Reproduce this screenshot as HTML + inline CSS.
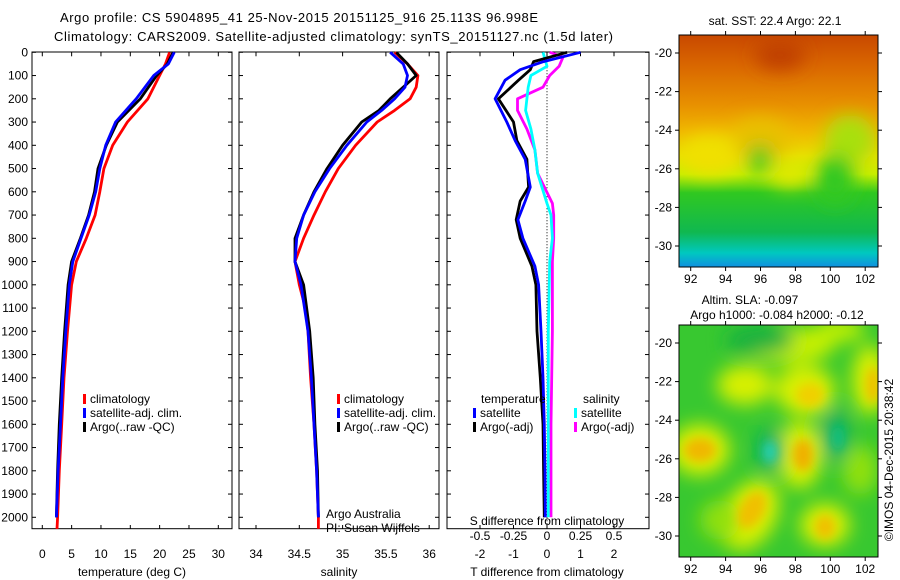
<!DOCTYPE html>
<html><head><meta charset="utf-8"><style>
body{margin:0;background:#fff}
svg{display:block;font-family:"Liberation Sans",sans-serif}
text{font-size:12px;fill:#000}
</style></head><body>
<svg id="fig" width="900" height="580" viewBox="0 0 900 580" xmlns="http://www.w3.org/2000/svg">
<defs>
<linearGradient id="sstg" x1="0" y1="0" x2="0" y2="1">
<stop offset="0" stop-color="#c84800"/><stop offset="0.12" stop-color="#d86400"/><stop offset="0.3" stop-color="#e89000"/><stop offset="0.42" stop-color="#f0b800"/><stop offset="0.52" stop-color="#e8e000"/><stop offset="0.6" stop-color="#c8ee00"/><stop offset="0.68" stop-color="#30c820"/><stop offset="0.85" stop-color="#10b850"/><stop offset="0.94" stop-color="#00c8c0"/><stop offset="1" stop-color="#1090e0"/>
</linearGradient>
<filter id="blur" x="-50%" y="-50%" width="200%" height="200%"><feGaussianBlur stdDeviation="9"/></filter>
<filter id="blur2" x="-50%" y="-50%" width="200%" height="200%"><feGaussianBlur stdDeviation="5"/></filter>
<clipPath id="c1"><rect x="679" y="35" width="199" height="232"/></clipPath>
<clipPath id="c2"><rect x="679" y="325" width="199" height="232"/></clipPath>
</defs>
<text x="60" y="22" textLength="478" style="font-size:13px">Argo profile: CS 5904895_41 25-Nov-2015 20151125_916 25.113S 96.998E</text>
<text x="54" y="41" textLength="559" style="font-size:13px">Climatology: CARS2009. Satellite-adjusted climatology: synTS_20151127.nc (1.5d later)</text>
<g id="g1"></g>
<g id="g2"></g>
<g id="g3"></g>
<g id="maps">
<g clip-path="url(#c1)">
<rect x="679" y="35" width="199" height="232" fill="url(#sstg)"/>
<g filter="url(#blur)">
<ellipse cx="760" cy="140" rx="30" ry="22" fill="#e8c000"/>
<ellipse cx="850" cy="140" rx="25" ry="25" fill="#a8e010"/>
<ellipse cx="710" cy="155" rx="30" ry="20" fill="#f0e000"/>
<ellipse cx="835" cy="180" rx="20" ry="25" fill="#30c820"/>
<ellipse cx="760" cy="160" rx="12" ry="15" fill="#40cc20"/>
<ellipse cx="790" cy="175" rx="20" ry="12" fill="#e0e800"/>
<ellipse cx="780" cy="55" rx="25" ry="15" fill="#c04000"/>
</g>
</g>
<rect x="679" y="35" width="199" height="232" fill="none" stroke="#000"/>
<g clip-path="url(#c2)">
<rect x="679" y="325" width="199" height="232" fill="#38c830"/>
<g filter="url(#blur)">
<ellipse cx="700" cy="450" rx="30" ry="26" fill="#d8f000"/>
<ellipse cx="750" cy="515" rx="26" ry="38" fill="#d8f000" transform="rotate(30 750 515)"/>
<ellipse cx="800" cy="455" rx="22" ry="34" fill="#d8f000"/>
<ellipse cx="825" cy="525" rx="25" ry="22" fill="#d8f000"/>
<ellipse cx="805" cy="390" rx="30" ry="25" fill="#d8f000"/>
<ellipse cx="870" cy="380" rx="18" ry="35" fill="#d8f000"/>
<ellipse cx="790" cy="345" rx="45" ry="18" fill="#c8f000"/>
<ellipse cx="745" cy="385" rx="28" ry="20" fill="#d8f000"/>
<ellipse cx="840" cy="330" rx="25" ry="12" fill="#c0f000"/>
<ellipse cx="720" cy="520" rx="20" ry="20" fill="#90e010"/>
<ellipse cx="860" cy="470" rx="18" ry="25" fill="#90e010"/>
<ellipse cx="760" cy="340" rx="35" ry="14" fill="#18b040"/>
<ellipse cx="770" cy="450" rx="14" ry="22" fill="#10b060"/>
<ellipse cx="835" cy="435" rx="14" ry="28" fill="#10b060"/>
</g>
<g filter="url(#blur2)">
<ellipse cx="700" cy="450" rx="16" ry="12" fill="#f0b800"/>
<ellipse cx="752" cy="510" rx="12" ry="20" fill="#f0c000" transform="rotate(30 752 510)"/>
<ellipse cx="803" cy="455" rx="10" ry="16" fill="#f0b000"/>
<ellipse cx="825" cy="527" rx="10" ry="12" fill="#f0c000"/>
<ellipse cx="810" cy="395" rx="14" ry="12" fill="#f0d000"/>
<ellipse cx="873" cy="385" rx="7" ry="18" fill="#f0c000"/>
<ellipse cx="770" cy="452" rx="7" ry="11" fill="#20d0b0"/>
<ellipse cx="838" cy="438" rx="6" ry="12" fill="#10c080"/>
</g>
</g>
<rect x="679" y="325" width="199" height="232" fill="none" stroke="#000"/>
<text x="775" y="25" text-anchor="middle">sat. SST: 22.4 Argo: 22.1</text>
<text x="750" y="304" text-anchor="middle">Altim. SLA: -0.097</text>
<text x="777" y="319" text-anchor="middle">Argo h1000: -0.084 h2000: -0.12</text>
<text x="0" y="0" transform="translate(893 460) rotate(-90)" text-anchor="middle">©IMOS 04-Dec-2015 20:38:42</text>
</g>
</svg>
<script>
// ---- data ----
const tempDepths=[0,50,100,200,300,400,500,600,700,800,900,1000,1200,1400,1600,1800,2000,2050];
const tempClim=[21.7,21.0,20.0,18.0,14.5,12.0,10.5,9.8,9.0,7.5,5.8,5.0,4.3,3.7,3.3,2.9,2.6,2.5];
const tempSatDepths=[0,50,100,200,300,400,500,600,700,800,900,1000,1200,1400,1600,1800,2000];
const tempSat=[22.5,21.5,19.0,16.0,12.5,10.8,9.8,9.1,8.0,6.6,5.2,4.6,4.0,3.5,3.1,2.7,2.4];
const tempArgo=[22.3,21.3,19.5,16.7,12.8,10.9,9.5,8.9,7.9,6.5,5.0,4.4,3.8,3.3,2.9,2.6,2.4];
const salDepths=[0,50,100,150,200,250,300,400,500,600,700,800,900,1000,1100,1200,1400,1600,1800,2000,2050];
const salClim=[35.6,35.75,35.87,35.85,35.78,35.6,35.4,35.15,34.95,34.8,34.67,34.55,34.45,34.5,34.57,34.6,34.63,34.67,34.7,34.72,34.72];
const salSatDepths=[0,50,100,150,200,250,300,400,500,600,700,800,900,1000,1200,1400,1600,1800,2000];
const salSat=[35.55,35.7,35.75,35.72,35.6,35.45,35.28,35.05,34.85,34.68,34.55,34.47,34.45,34.52,34.6,34.64,34.67,34.7,34.72];
const salArgo=[35.62,35.75,35.85,35.7,35.55,35.42,35.22,35.0,34.82,34.67,34.55,34.45,34.45,34.55,34.62,34.66,34.68,34.71,34.72];
const dTDepths=[0,40,75,120,200,300,380,460,580,640,720,800,920,1000,1200,1400,1600,1800,2000];
const dTSat=[1.0,-0.1,-0.8,-1.25,-1.55,-1.2,-0.95,-0.65,-0.5,-0.65,-0.87,-0.72,-0.36,-0.25,-0.18,-0.12,-0.08,-0.06,-0.05];
const dTArgo=[0.6,-0.4,-0.5,-0.85,-1.45,-1.0,-0.9,-0.6,-0.55,-0.8,-0.92,-0.8,-0.45,-0.33,-0.3,-0.2,-0.12,-0.1,-0.08];
const dSDepths=[0,20,60,100,150,200,250,330,420,520,650,700,800,900,1200,1600,2000];
const dSSat=[-0.03,-0.02,0.0,-0.12,-0.14,-0.15,-0.16,-0.12,-0.09,-0.07,0.0,0.03,0.04,0.02,0.01,0.01,0.01];
const dSArgo=[0.02,0.12,0.09,0.02,-0.03,-0.22,-0.22,-0.15,-0.09,-0.07,0.04,0.05,0.05,0.04,0.04,0.03,0.03];
const depthTicks=[0,100,200,300,400,500,600,700,800,900,1000,1100,1200,1300,1400,1500,1600,1700,1800,1900,2000];
const tempTicks=[0,5,10,15,20,25,30];
const salTicks=[34,34.5,35,35.5,36];
const dTTicks=[-2,-1,0,1,2];
const dSTickLabels=["-0.5","-0.25","0","0.25","0.5"];
const dSTicks=[-0.5,-0.25,0,0.25,0.5];
const lonTicks=[92,94,96,98,100,102];
const latTicks=[-20,-22,-24,-26,-28,-30];

const NS='http://www.w3.org/2000/svg';
const svg=document.getElementById('fig');
function mk(tag,attrs,parent,txt){const e=document.createElementNS(NS,tag);for(const k in attrs)e.setAttribute(k,attrs[k]);if(txt!==undefined)e.textContent=txt;(parent||svg).appendChild(e);return e;}
const top0=52.3,bot=529;
const yD=d=>top0+d*0.2325;
const xT=v=>42.3+v*5.867;
const xS=v=>256+(v-34)*86.6;
const xD=v=>547+v*33.5;
const xDS=v=>547+v*4*33.5;

function frame(g,x0,x1,ticksLeft){
  const r=mk('rect',{x:x0,y:top0-0.3,width:x1-x0,height:bot-top0,fill:'none',stroke:'#000','stroke-width':1},g);
  
  
  depthTicks.forEach(d=>{
    mk('line',{x1:x0,x2:x0+4,y1:yD(d),y2:yD(d),stroke:'#000'},g);
    mk('line',{x1:x1,x2:x1-4,y1:yD(d),y2:yD(d),stroke:'#000'},g);
    if(ticksLeft){const t=mk('text',{x:28,y:yD(d)+4,'text-anchor':'end'},g,String(d));
      
      }
  });
}
function xticks(g,ticks,fx,labels,y){
  ticks.forEach((v,i)=>{
    mk('line',{x1:fx(v),x2:fx(v),y1:bot,y2:bot-4,stroke:'#000'},g);
    mk('line',{x1:fx(v),x2:fx(v),y1:top0,y2:top0+4,stroke:'#000'},g);
    const t=mk('text',{x:fx(v),y:y,'text-anchor':'middle'},g,labels?labels[i]:String(v));
    
    
  });
}
function line(g,depths,vals,fx,color,name,w){
  const pts=depths.map((d,i)=>fx(vals[i]).toFixed(1)+','+yD(d).toFixed(1)).join(' ');
  const p=mk('polyline',{points:pts,fill:'none',stroke:color,'stroke-width':w||2.8,'stroke-linejoin':'round'},g);
  
  
}
function legend(g,x,y,color,label,name){
  mk('rect',{x:x,y:y-9,width:3,height:10,fill:color},g);
  const t=mk('text',{x:x+7,y:y},g,label);
  
  
}
// panel 1
const g1=document.getElementById('g1');
frame(g1,32,232,true);
xticks(g1,tempTicks,xT,null,558);
line(g1,tempDepths,tempClim,xT,'#f00','temp-climatology-line');
line(g1,tempSatDepths,tempArgo,xT,'#000','temp-argo-line');
line(g1,tempSatDepths,tempSat,xT,'#00f','temp-satellite-line');
legend(g1,83,403,'#f00','climatology','legend-climatology');
legend(g1,83,417,'#00f','satellite-adj. clim.','legend-satellite');
legend(g1,83,431,'#000','Argo(..raw -QC)','legend-argo');
let t=mk('text',{x:132,y:576,'text-anchor':'middle'},g1,'temperature (deg C)');


// panel 2
const g2=document.getElementById('g2');
frame(g2,239,439,false);
xticks(g2,salTicks,xS,null,558);
line(g2,salDepths,salClim,xS,'#f00','sal-climatology-line');
line(g2,salSatDepths,salArgo,xS,'#000','sal-argo-line');
line(g2,salSatDepths,salSat,xS,'#00f','sal-satellite-line');
legend(g2,337,403,'#f00','climatology','legend-climatology');
legend(g2,337,417,'#00f','satellite-adj. clim.','legend-satellite');
legend(g2,337,431,'#000','Argo(..raw -QC)','legend-argo');
t=mk('text',{x:326,y:518},g2,'Argo Australia');


t=mk('text',{x:326,y:532},g2,'PI: Susan Wijffels');


t=mk('text',{x:339,y:576,'text-anchor':'middle'},g2,'salinity');


// panel 3
const g3=document.getElementById('g3');
frame(g3,447,649,false);
xticks(g3,dTTicks,xD,null,558);
mk('line',{x1:547,x2:547,y1:top0,y2:bot,stroke:'#000','stroke-dasharray':'1,2'},g3);
line(g3,dSDepths,dSArgo,xDS,'#f0f','ds-argo-line');
line(g3,dSDepths,dSSat,xDS,'#0ff','ds-satellite-line');
line(g3,dTDepths,dTArgo,xD,'#000','dt-argo-line');
line(g3,dTDepths,dTSat,xD,'#00f','dt-satellite-line');
dSTicks.forEach((v,i)=>{const tt=mk('text',{x:xDS(v),y:540,'text-anchor':'middle'},g3,dSTickLabels[i]);
  
  });
t=mk('text',{x:481,y:403},g3,'temperature');


legend(g3,473,417,'#00f','satellite','legend-t-satellite');
legend(g3,473,431,'#000','Argo(-adj)','legend-t-argo');
t=mk('text',{x:583,y:403},g3,'salinity');


legend(g3,574,417,'#0ff','satellite','legend-s-satellite');
legend(g3,574,431,'#f0f','Argo(-adj)','legend-s-argo');
t=mk('text',{x:547,y:525,'text-anchor':'middle'},g3,'S difference from climatology');


t=mk('text',{x:547,y:576,'text-anchor':'middle'},g3,'T difference from climatology');


// map axes
const gm=document.getElementById('maps');
const xLon=v=>690.7+(v-92)*17.45;
[[35,267,53,283],[325,557,343,573]].forEach(([y0,y1,y20,ly])=>{
  lonTicks.forEach(v=>{
    mk('line',{x1:xLon(v),x2:xLon(v),y1:y1,y2:y1+4,stroke:'#000'},gm);
    mk('line',{x1:xLon(v),x2:xLon(v),y1:y0,y2:y0-4,stroke:'#000'},gm);
    const tt=mk('text',{x:xLon(v),y:ly,'text-anchor':'middle'},gm,String(v));
    
    
  });
  latTicks.forEach(v=>{
    const y=y20+(-20-v)*19.3;
    mk('line',{x1:679,x2:675,y1:y,y2:y,stroke:'#000'},gm);
    mk('line',{x1:878,x2:882,y1:y,y2:y,stroke:'#000'},gm);
    const tt=mk('text',{x:672,y:y+4,'text-anchor':'end'},gm,String(v));
    
    
  });
});
</script>
</body></html>
